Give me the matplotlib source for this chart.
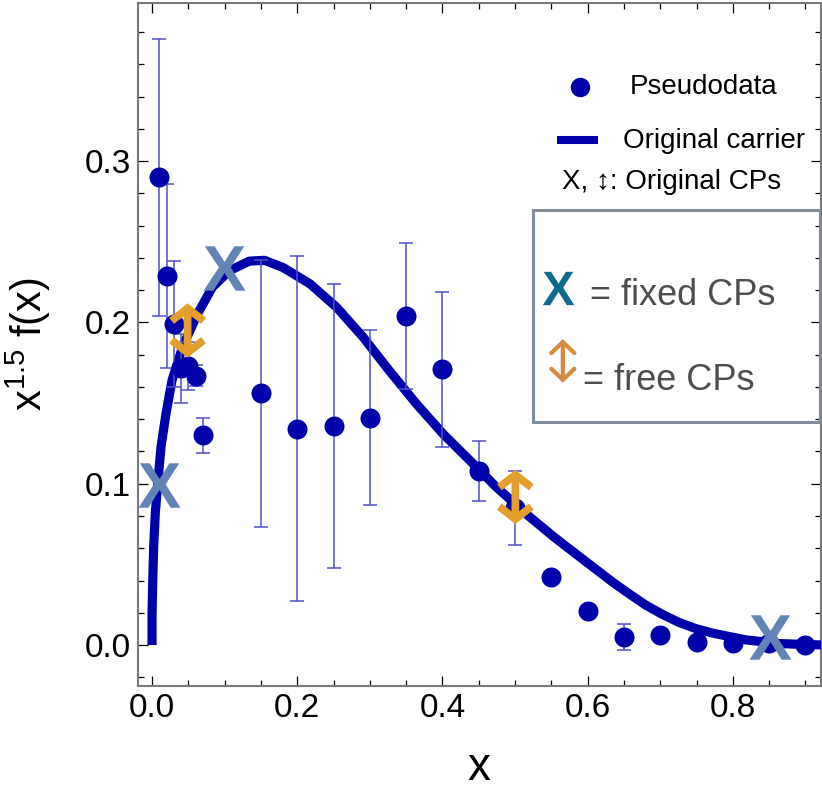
import matplotlib
matplotlib.use("Agg")
import matplotlib.pyplot as plt
from matplotlib.ticker import MultipleLocator

plt.rcParams["font.family"] = ["Liberation Sans", "DejaVu Sans"]
plt.rcParams["mathtext.fontset"] = "custom"
plt.rcParams["mathtext.rm"] = "Liberation Sans"
plt.rcParams["mathtext.sf"] = "Liberation Sans:bold"

# pseudodata
data_x = [0.01, 0.02, 0.03, 0.04, 0.05, 0.06, 0.07, 0.15, 0.2, 0.25, 0.3, 0.35,
          0.4, 0.45, 0.5, 0.55, 0.6, 0.65, 0.7, 0.75, 0.8, 0.85, 0.9]
data_y = [0.290, 0.229, 0.199, 0.1715, 0.173, 0.167, 0.130, 0.156, 0.134, 0.136,
          0.141, 0.204, 0.171, 0.108, 0.085, 0.042, 0.021, 0.005, 0.006, 0.002,
          0.001, 0.001, 0.0]
data_err = [0.086, 0.057, 0.039, 0.0215, 0.015, 0.0066, 0.011, 0.083, 0.107, 0.088,
            0.054, 0.045, 0.048, 0.0185, 0.023, 0.0, 0.0, 0.008, 0.0, 0.0,
            0.0, 0.0, 0.0]

# original carrier, traced points
carrier_x = [0.0, 0.0, 0.001, 0.0023, 0.0045, 0.0083, 0.0124, 0.0193, 0.0275, 0.0422,
             0.063, 0.0834, 0.1064, 0.134, 0.155, 0.1806, 0.2173, 0.254, 0.2907, 0.327,
             0.364, 0.4007, 0.4374, 0.4741, 0.52, 0.555, 0.589, 0.6345, 0.658, 0.680,
             0.703, 0.726, 0.749, 0.772, 0.818, 0.864, 0.925]
carrier_y = [0.0, 0.0195, 0.040, 0.061, 0.0817, 0.1023, 0.123, 0.1436, 0.164, 0.185,
             0.2056, 0.222, 0.232, 0.238, 0.2385, 0.234, 0.224, 0.2095, 0.1909, 0.170,
             0.1496, 0.131, 0.1146, 0.098, 0.0795, 0.0665, 0.0547, 0.039, 0.0315, 0.0248,
             0.019, 0.014, 0.0102, 0.0074, 0.0032, 0.0009, 0.0]

# control points
fixed_cp_x = [0.0093, 0.0998, 0.851]
fixed_cp_y = [0.0995, 0.2335, 0.005]
free_cp_x = [0.049, 0.5005]
free_cp_y = [0.195, 0.0918]

dark_blue = "#0000AA"
err_blue = "#4F4FCE"
steel = "#6283B6"
orange = "#E39E2B"

fig = plt.figure(figsize=(8.22, 7.94), dpi=100)
ax = fig.add_axes([0.1679, 0.136, 0.8309, 0.8602])

ax.plot(carrier_x, carrier_y, color=dark_blue, lw=6.6,
        solid_capstyle="butt", solid_joinstyle="round", zorder=3)
ax.errorbar(data_x, data_y, yerr=data_err, fmt="none", ecolor=err_blue,
            elinewidth=1.1, capsize=4.7, capthick=1.1, zorder=4)
ax.plot(data_x, data_y, "o", color=dark_blue, ms=14.4, mec="none", zorder=5)

ax.plot(fixed_cp_x, fixed_cp_y, ls="none", marker=r"$\mathsf{X}$", ms=32,
        color=steel, mec="none", zorder=6)
for x, y in zip(free_cp_x, free_cp_y):
    ax.annotate("", xy=(x, y + 0.0168), xytext=(x, y - 0.0168),
                arrowprops=dict(arrowstyle="<->,head_length=0.9,head_width=1.15",
                                color=orange, lw=5.6, shrinkA=0, shrinkB=0,
                                mutation_scale=10, joinstyle="miter",
                                capstyle="butt"),
                zorder=7)

ax.set_xlim(-0.0193, 0.9215)
ax.set_ylim(-0.0254, 0.398)
ax.xaxis.set_major_locator(MultipleLocator(0.2))
ax.xaxis.set_minor_locator(MultipleLocator(0.05))
ax.yaxis.set_major_locator(MultipleLocator(0.1))
ax.yaxis.set_minor_locator(MultipleLocator(0.02))
ax.xaxis.set_major_formatter(lambda v, p: f"{v:.1f}")
ax.yaxis.set_major_formatter(lambda v, p: f"{v:.1f}")
ax.tick_params(which="both", direction="in", top=True, right=True,
               labelsize=24, width=0.9, color="black")
ax.tick_params(axis="x", which="major", length=7, pad=5)
ax.tick_params(axis="y", which="major", length=7, pad=5)
ax.tick_params(which="minor", length=4.5)
for sp in ax.spines.values():
    sp.set_color("#7a7a7a")
    sp.set_linewidth(1.5)

ax.set_ylabel(r"$\mathregular{x^{1.5}}$ f(x)", fontsize=30)
ax.yaxis.set_label_coords(-0.125, 0.5)
ax.set_xlabel("x", fontsize=33)
ax.xaxis.set_label_coords(0.499, -0.088)

# top legend
tr = ax.transAxes
ax.plot([0.647], [0.877], "o", color=dark_blue, ms=14, mec="none", transform=tr)
ax.text(0.720, 0.8663, "Pseudodata", fontsize=20, va="baseline", transform=tr)
ax.plot([0.613, 0.673], [0.799, 0.799], color=dark_blue, lw=5.8,
        solid_capstyle="butt", transform=tr)
ax.text(0.710, 0.788, "Original carrier", fontsize=20, va="baseline", transform=tr)
ax.text(0.621, 0.7272, "X, \u2195: Original CPs", fontsize=20, va="baseline",
        transform=tr)

# boxed legend for control points
box = plt.Rectangle((0.578, 0.3865), 0.42, 0.3105, transform=tr, fill=False,
                    edgecolor="#7F8C99", lw=2.2, zorder=8)
ax.add_patch(box)
ax.plot([0.615], [0.5827], ls="none", marker=r"$\mathsf{X}$", ms=24,
        color="#0F6A8C", mec="none", transform=tr)
ax.text(0.662, 0.5578, "= fixed CPs", fontsize=26, color="#4D4D4D",
        va="baseline", transform=tr)
ax.annotate("", xy=(0.622, 0.508), xytext=(0.622, 0.444), xycoords=tr,
            textcoords=tr,
            arrowprops=dict(arrowstyle="<->,head_length=0.8,head_width=0.83",
                            color="#D58A3D", lw=3, shrinkA=0, shrinkB=0,
                            mutation_scale=10, joinstyle="miter"))
ax.text(0.652, 0.4334, "= free CPs", fontsize=26, color="#4D4D4D",
        va="baseline", transform=tr)

fig.savefig("out.png", dpi=100)
